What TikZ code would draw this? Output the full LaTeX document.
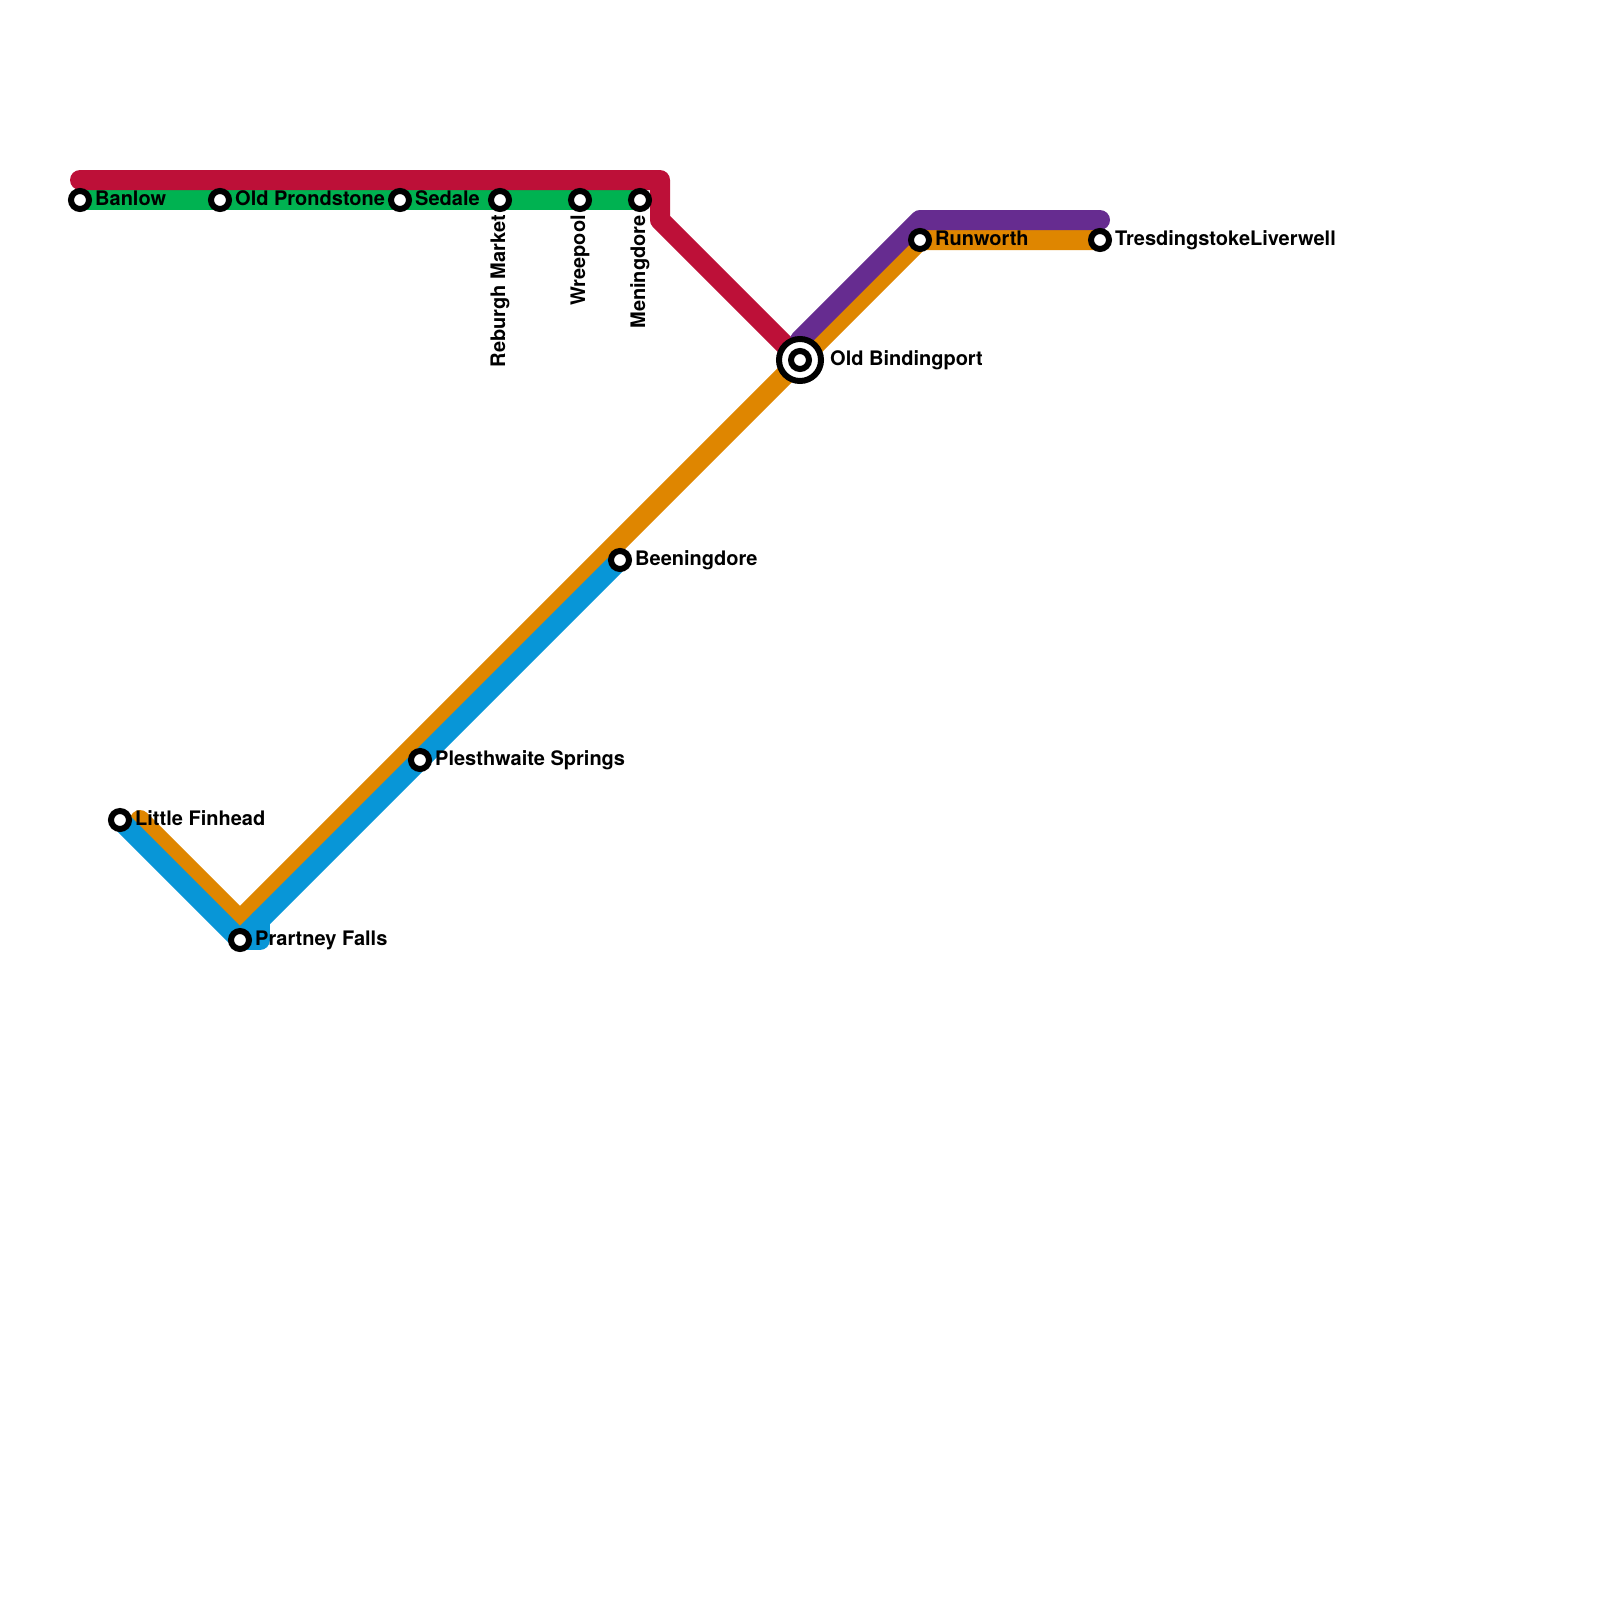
\documentclass[tikz,border=0pt]{standalone}
\usepackage{fontspec}
\setmainfont{TeX Gyre Heros}
\definecolor{linered}{HTML}{BD1038}
\definecolor{linegreen}{HTML}{00B251}
\definecolor{lineorange}{HTML}{DF8600}
\definecolor{lineblue}{HTML}{0896D7}
\definecolor{linepurple}{HTML}{662C90}
\begin{document}
\begin{tikzpicture}[
x=1pt,y=-1pt,
metro/.style={line width=20pt,line cap=round,line join=round},
stopnode/.style={circle,draw=black,fill=white,line width=6pt,inner sep=0pt,
outer sep=0pt,minimum size=18pt},
hubnode/.style={circle,draw=black,fill=white,line width=6pt,inner sep=0pt,
outer sep=0pt,minimum size=42pt},
lab/.style={font=\bfseries\fontsize{20}{24}\selectfont,inner sep=0pt,anchor=base west},
vlab/.style={font=\bfseries\fontsize{20}{24}\selectfont,inner sep=0pt,anchor=base east,rotate=90}
]
\useasboundingbox (0,0) rectangle (1600,1600);

% bends and line ends
\coordinate (redstart) at (80,180);
\coordinate (redcorner) at (660,180);
\coordinate (redbend) at (660,220);
\coordinate (orangestart) at (140,820);
\coordinate (orangelow) at (240,920);
\coordinate (orangebend) at (920,240);
\coordinate (bluefoot) at (260,940);
\coordinate (bluebend) at (260,920);
\coordinate (purplestart) at (800,340);
\coordinate (purplebend) at (920,220);
\coordinate (purpleend) at (1100,220);

% stations
\coordinate (banlow) at (80,200);
\coordinate (prondstone) at (220,200);
\coordinate (sedale) at (400,200);
\coordinate (reburgh) at (500,200);
\coordinate (wreepool) at (580,200);
\coordinate (meningdore) at (640,200);
\coordinate (bindingport) at (800,360);
\coordinate (runworth) at (920,240);
\coordinate (tresdingstoke) at (1100,240);
\coordinate (beeningdore) at (620,560);
\coordinate (plesthwaite) at (420,760);
\coordinate (prartney) at (240,940);
\coordinate (finhead) at (120,820);

% lines
\draw[metro,linegreen] (banlow) -- (meningdore);
\draw[metro,linered] (redstart) -- (redcorner) -- (redbend) -- (bindingport);
\draw[metro,lineorange] (orangestart) -- (orangelow) -- (orangebend) -- (tresdingstoke);
\draw[metro,lineblue] (finhead) -- (prartney) -- (beeningdore);
\draw[metro,lineblue] (prartney) -- (bluefoot) -- (bluebend);
\draw[metro,linepurple] (purplestart) -- (purplebend) -- (purpleend);

\foreach \s in {banlow,prondstone,sedale,reburgh,wreepool,meningdore,
runworth,tresdingstoke,beeningdore,plesthwaite,prartney,finhead}
\node[stopnode] (\s stop) at (\s) {};
\node[hubnode] (bindinghub) at (bindingport) {};
\node[stopnode] (bindingstop) at (bindingport) {};

% labels
\foreach \s/\t in {banlow/Banlow,prondstone/Old Prondstone,sedale/Sedale,
runworth/Runworth,tresdingstoke/TresdingstokeLiverwell,beeningdore/Beeningdore,
plesthwaite/Plesthwaite Springs,prartney/Prartney Falls,finhead/Little Finhead}
\node[lab] (\s label) at ([shift={(15,5)}]\s) {\t};
\foreach \s/\t in {reburgh/Reburgh Market,wreepool/Wreepool,meningdore/Meningdore}
\node[vlab] (\s label) at ([shift={(5,15)}]\s) {\t};
\node[lab] (bindinglabel) at ([shift={(30,5)}]bindingport) {Old Bindingport};
\end{tikzpicture}
\end{document}
